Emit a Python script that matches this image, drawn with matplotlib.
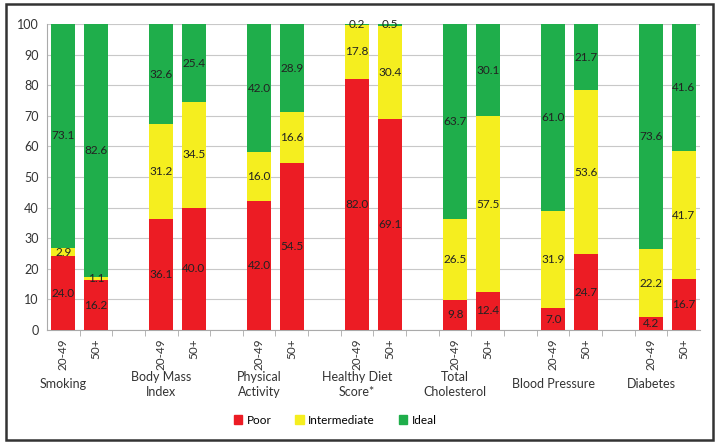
import matplotlib
matplotlib.use("Agg")
from matplotlib import pyplot as plt
from matplotlib.patches import Rectangle, Patch

plt.rcParams['font.family'] = ['Lato', 'DejaVu Sans']

# Data (percent)
groups = ["Smoking", "Body Mass\nIndex", "Physical\nActivity", "Healthy Diet\nScore*",
          "Total\nCholesterol", "Blood Pressure", "Diabetes"]
ages = ["20-49", "50+"]
poor = [24.0, 16.2, 36.1, 40.0, 42.0, 54.5, 82.0, 69.1, 9.8, 12.4, 7.0, 24.7, 4.2, 16.7]
intermediate = [2.9, 1.1, 31.2, 34.5, 16.0, 16.6, 17.8, 30.4, 26.5, 57.5, 31.9, 53.6, 22.2, 41.7]
ideal = [73.1, 82.6, 32.6, 25.4, 42.0, 28.9, 0.2, 0.5, 63.7, 30.1, 61.0, 21.7, 73.6, 41.6]

red = "#ec1c24"
yellow = "#f5ee1f"
green = "#1fae4b"

# slot positions: two bars per group and one empty slot between groups
xpos = []
for g in range(len(groups)):
    xpos.append(g * 3)
    xpos.append(g * 3 + 1)

fig = plt.figure(figsize=(7.21, 4.44), dpi=100)
ax = fig.add_axes([0.065, 0.257, 0.906, 0.689])

w = 0.72
bottoms2 = [p + i for p, i in zip(poor, intermediate)]
ax.bar(xpos, poor, width=w, color=red, zorder=3)
ax.bar(xpos, intermediate, width=w, bottom=poor, color=yellow, zorder=3)
ax.bar(xpos, ideal, width=w, bottom=bottoms2, color=green, zorder=3)

# value labels centered in each segment
for i, x in enumerate(xpos):
    ax.text(x, poor[i] / 2, "%.1f" % poor[i], ha="center", va="center", fontsize=8.5, color="#222222", zorder=4)
    ax.text(x, poor[i] + intermediate[i] / 2, "%.1f" % intermediate[i], ha="center", va="center",
            fontsize=8.5, color="#222222", zorder=4)
    ax.text(x, bottoms2[i] + ideal[i] / 2, "%.1f" % ideal[i], ha="center", va="center",
            fontsize=8.5, color="#222222", zorder=4)

ax.set_xlim(-0.5, len(groups) * 3 - 1.5)
ax.set_ylim(0, 100)
ax.set_yticks(range(0, 101, 10))
ax.yaxis.grid(True, color="#c8c8c8", linewidth=0.8, zorder=0)
ax.tick_params(axis="y", length=0, labelsize=9, colors="#333333", pad=6)

ax.set_xticks(xpos)
ax.set_xticklabels(ages * len(groups), rotation=90, fontsize=8.5, color="#333333")
ax.tick_params(axis="x", length=0, pad=6)
# small tick marks at slot boundaries
ax.set_xticks([i + 0.5 for i in range(len(groups) * 3 - 2)], minor=True)
ax.tick_params(axis="x", which="minor", length=4, color="#aaaaaa")

for s in ["top", "right"]:
    ax.spines[s].set_visible(False)
ax.spines["left"].set_color("#aaaaaa")
ax.spines["bottom"].set_color("#aaaaaa")

# group labels below the age labels
for g, name in enumerate(groups):
    ax.text(g * 3, -0.178, name, transform=ax.get_xaxis_transform(), ha="center", va="center",
            fontsize=9, color="#333333", linespacing=1.25)

handles = [Patch(color=red, label="Poor"), Patch(color=yellow, label="Intermediate"),
           Patch(color=green, label="Ideal")]
fig.legend(handles=handles, loc="center", bbox_to_anchor=(0.465, 0.054), ncol=3, frameon=False,
           fontsize=8.5, handlelength=0.7, handleheight=0.7, columnspacing=2.0, handletextpad=0.4)

# outer frame around the figure
fig.patches.append(Rectangle((0.008, 0.01), 0.981, 0.98, transform=fig.transFigure,
                             fill=False, edgecolor="#333333", linewidth=1.8))

plt.savefig("out.png", dpi=100)
